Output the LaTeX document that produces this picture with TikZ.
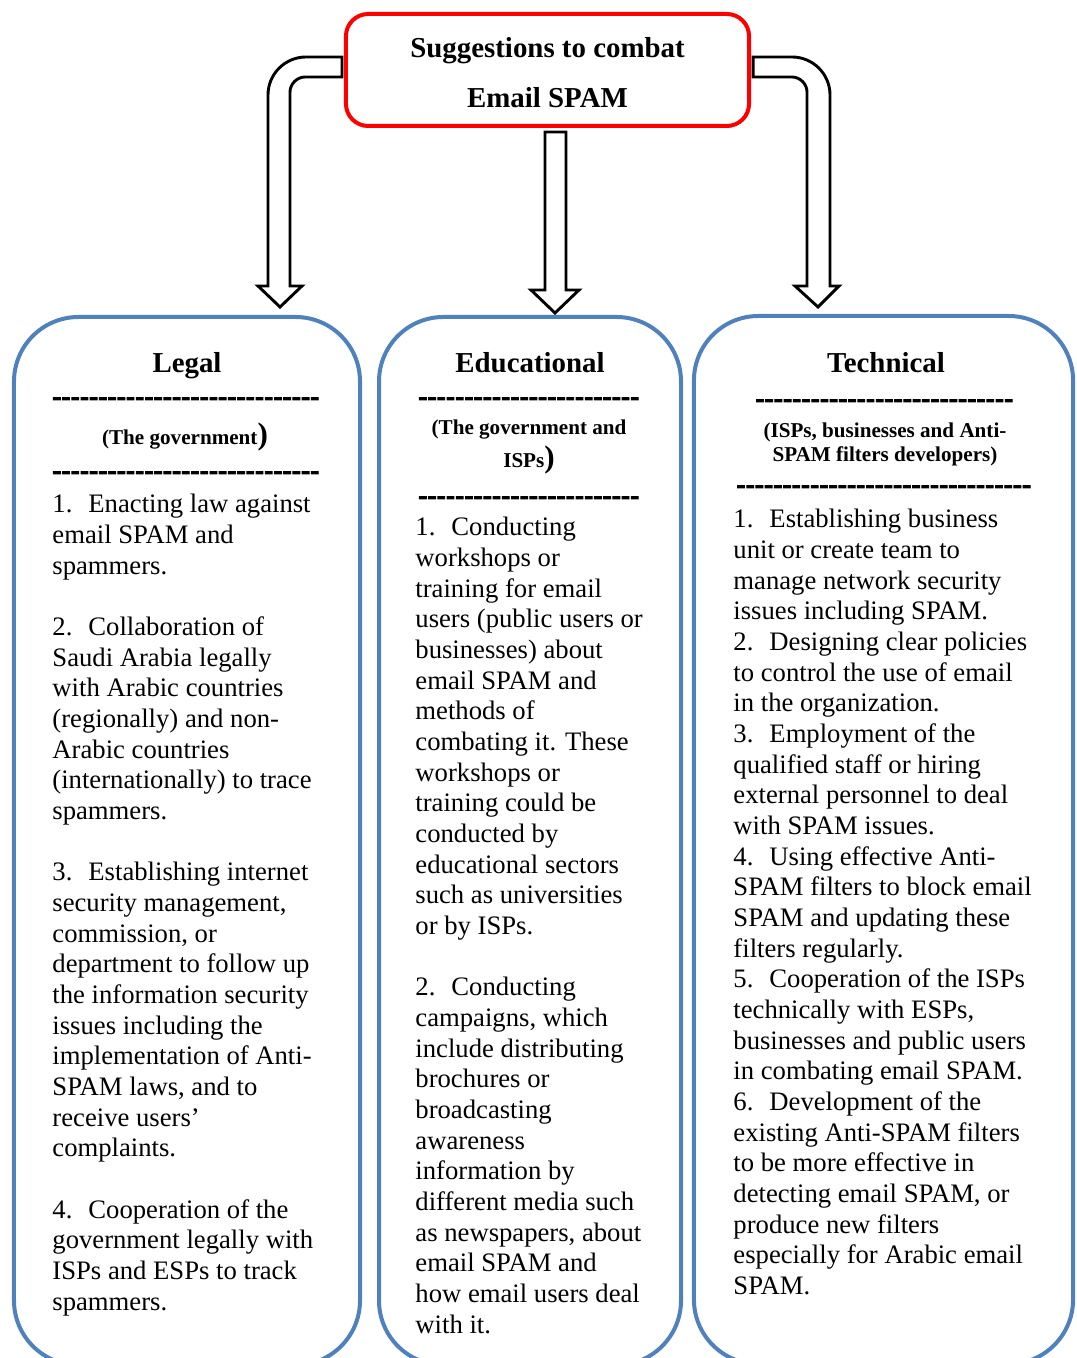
\documentclass[tikz,border=0pt]{standalone}
\usepackage{fontspec}
\setmainfont{Liberation Serif}
\newfontfamily\dashfont{Liberation Serif Bold}[FakeBold=3.5]
\usetikzlibrary{calc}
\definecolor{boxblue}{RGB}{79,129,189}
% a row of heavy hyphens (no -- ligature)
\newcommand\dashrow[1]{\foreach \k in {1,...,#1}{-\kern0.15pt}}
\newcommand\itm[1]{#1.\hspace{7.2pt}}
\newcommand\bigpar{{\fontsize{14}{14}\selectfont)}}

\begin{document}
\begin{tikzpicture}[
  x=0.45pt, y=-0.45pt,
  topbox/.style={draw=red, line width=1.8pt, rounded corners=10pt, fill=white,
                 minimum width=181.4pt, minimum height=50.4pt, inner sep=0pt,
                 align=center, font=\fontsize{13}{22.5}\selectfont\bfseries},
  colbox/.style={draw=boxblue, line width=1.8pt, rounded corners=29pt,
                 minimum height=471.6pt, inner sep=0pt},
  barrow/.style={draw=black, line width=1.3pt, fill=white, line join=miter},
  heading/.style={anchor=base, inner sep=0pt, font=\fontsize{13}{15}\selectfont\bfseries},
  dashrule/.style={anchor=base, inner sep=0pt, font=\fontsize{12}{14}\selectfont\dashfont},
  who/.style={anchor=base, inner sep=0pt, align=center,
              font=\fontsize{9.5}{11.25}\selectfont\bfseries},
  body/.style={anchor=north west, inner sep=0pt, align=left,
               font=\fontsize{12}{13.8}\selectfont}
]
\useasboundingbox (0,0) rectangle (1076,1358);
\clip (0,0) rectangle (1076,1358);

% top box
\node[topbox] (top) at (547.5,70) {\rule{0pt}{11.6pt}Suggestions to combat\\Email SPAM};

% block arrows down to the three columns
\draw[barrow] ($(top.west)+(-2,-13)$) -- (306,57)
  .. controls (285,57) and (268,74) .. (268,95) -- (268,286) -- (258,286)
  -- (280,307) -- (302,286) -- (290,286) -- (290,92)
  .. controls (290,84) and (297,77) .. (305,77) -- ($(top.west)+(-2,7)$) -- cycle;
\draw[barrow] (545,132) -- (545,290) -- (531,290) -- (555,313)
  -- (579,290) -- (566,290) -- (566,132) -- cycle;
\draw[barrow] ($(top.east)+(2,-13)$) -- (792,57)
  .. controls (813,57) and (830,74) .. (830,95) -- (830,286) -- (839,286)
  -- (818,307) -- (795,286) -- (807,286) -- (807,92)
  .. controls (807,84) and (800,77) .. (792,77) -- ($(top.east)+(2,7)$) -- cycle;

% columns
\node[colbox, minimum width=155.7pt] (legal) at (187,841) {};
\node[colbox, minimum width=135.9pt] (edu)   at (530,841) {};
\node[colbox, minimum width=170.6pt] (tech)  at (883.5,840) {};

% Legal
\node[heading]  (legalT)  at (187,372) {Legal};
\node[dashrule] (legalD1) at (186,405) {\dashrow{29}};
\node[who]      (legalW)  at (185,444) {(The government\bigpar};
\node[dashrule] (legalD2) at (186,479) {\dashrow{29}};
\node[body] (legalL) at (52,494) {%
\itm{1}Enacting law against\\
email SPAM and\\
spammers.\\[13.8pt]
\itm{2}Collaboration of\\
Saudi Arabia legally\\
with Arabic countries\\
(regionally) and non-\\
Arabic countries\\
(internationally) to trace\\
spammers.\\[13.8pt]
\itm{3}Establishing internet\\
security management,\\
commission, or\\
department to follow up\\
the information security\\
issues including the\\
implementation of Anti-\\
SPAM laws, and to\\
receive users’\\
complaints.\\[13.8pt]
\itm{4}Cooperation of the\\
government legally with\\
ISPs and ESPs to track\\
spammers.};

% Educational
\node[heading]  (eduT)  at (530,372) {Educational};
\node[dashrule] (eduD1) at (529,405) {\dashrow{24}};
\node[who]      (eduW1) at (529,434) {(The government and};
\node[who]      (eduW2) at (529,467) {ISPs\bigpar};
\node[dashrule] (eduD2) at (529,504) {\dashrow{24}};
\node[body] (eduL) at (415,517) {%
\itm{1}Conducting\\
workshops or\\
training for email\\
users (public users or\\
businesses) about\\
email SPAM and\\
methods of\\
combating it. These\\
workshops or\\
training could be\\
conducted by\\
educational sectors\\
such as universities\\
or by ISPs.\\[13.8pt]
\itm{2}Conducting\\
campaigns, which\\
include distributing\\
brochures or\\
broadcasting\\
awareness\\
information by\\
different media such\\
as newspapers, about\\
email SPAM and\\
how email users deal\\
with it.};

% Technical
\node[heading]  (techT)  at (886,373) {Technical};
\node[dashrule] (techD1) at (884.5,407) {\dashrow{28}};
\node[who]      (techW1) at (885,437) {(ISPs, businesses and Anti-};
\node[who]      (techW2) at (885,461) {SPAM filters developers)};
\node[dashrule] (techD2) at (884,493) {\dashrow{32}};
\node[body] (techL) at (733,509) {%
\itm{1}Establishing business\\
unit or create team to\\
manage network security\\
issues including SPAM.\\
\itm{2}Designing clear policies\\
to control the use of email\\
in the organization.\\
\itm{3}Employment of the\\
qualified staff or hiring\\
external personnel to deal\\
with SPAM issues.\\
\itm{4}Using effective Anti-\\
SPAM filters to block email\\
SPAM and updating these\\
filters regularly.\\
\itm{5}Cooperation of the ISPs\\
technically with ESPs,\\
businesses and public users\\
in combating email SPAM.\\
\itm{6}Development of the\\
existing Anti-SPAM filters\\
to be more effective in\\
detecting email SPAM, or\\
produce new filters\\
especially for Arabic email\\
SPAM.};
\end{tikzpicture}
\end{document}
